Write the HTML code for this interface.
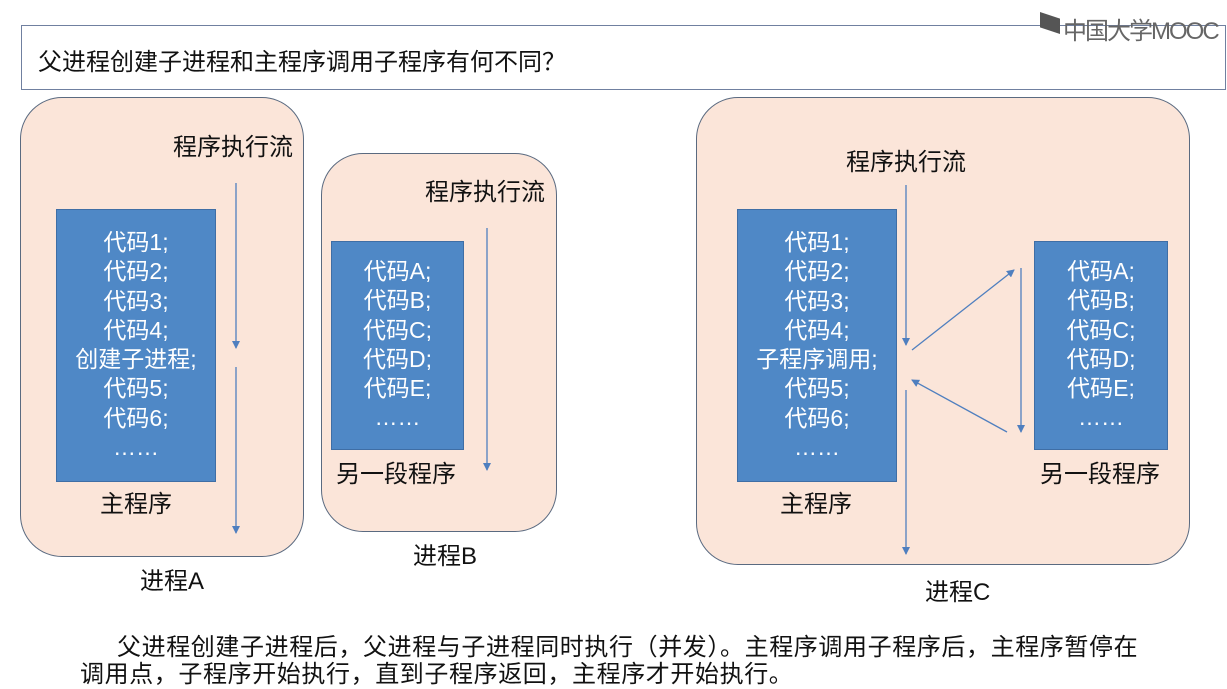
<!DOCTYPE html>
<html><head><meta charset="utf-8"><style>
body{margin:0;width:1227px;height:685px;background:#fff;position:relative;overflow:hidden;font-family:"Liberation Sans","Noto Sans CJK SC",sans-serif;}
.a{position:absolute;}
.proc{position:absolute;background:#fbe5d9;border:1.5px solid #5a6a80;border-radius:42px;}
.blue{position:absolute;background:#4f88c6;border:1.5px solid #3f6ea5;color:#fff;font-size:23px;line-height:29.3px;text-align:center;box-sizing:border-box;}
.t{position:absolute;font-size:24px;color:#111;white-space:nowrap;}
</style></head><body>
<div class="a" style="left:21px;top:25px;width:1205px;height:65px;border:1.5px solid #7080a0;box-sizing:border-box;"></div>
<div class="t" style="left:38px;top:42px;font-size:24px;">父进程创建子进程和主程序调用子程序有何不同？</div>
<div class="a" style="left:1040px;top:12px;width:20px;height:22px;background:#555;clip-path:polygon(0 0,100% 30%,100% 100%,0 70%);"></div>
<div class="t" style="left:1063px;top:11px;color:#666;font-size:24px;letter-spacing:-2px;">中国大学MOOC</div>

<div class="proc" style="left:20px;top:97px;width:282px;height:458px;"></div>
<div class="proc" style="left:321px;top:153px;width:234px;height:377px;"></div>
<div class="proc" style="left:696px;top:97px;width:492px;height:466px;"></div>

<div class="blue" style="left:56px;top:209px;width:160px;height:273px;padding-top:18px;">代码1;<br>代码2;<br>代码3;<br>代码4;<br>创建子进程;<br>代码5;<br>代码6;<br>……</div>
<div class="blue" style="left:331px;top:241px;width:133px;height:209px;padding-top:15px;">代码A;<br>代码B;<br>代码C;<br>代码D;<br>代码E;<br>……</div>
<div class="blue" style="left:737px;top:209px;width:160px;height:273px;padding-top:18px;">代码1;<br>代码2;<br>代码3;<br>代码4;<br>子程序调用;<br>代码5;<br>代码6;<br>……</div>
<div class="blue" style="left:1034px;top:241px;width:134px;height:209px;padding-top:15px;">代码A;<br>代码B;<br>代码C;<br>代码D;<br>代码E;<br>……</div>

<div class="t" style="left:173px;top:127px;">程序执行流</div>
<div class="t" style="left:425px;top:172px;">程序执行流</div>
<div class="t" style="left:846px;top:142px;">程序执行流</div>
<div class="t" style="left:100px;top:484px;">主程序</div>
<div class="t" style="left:336px;top:454px;">另一段程序</div>
<div class="t" style="left:140px;top:561px;">进程A</div>
<div class="t" style="left:413px;top:536px;">进程B</div>
<div class="t" style="left:780px;top:484px;">主程序</div>
<div class="t" style="left:1040px;top:454px;">另一段程序</div>
<div class="t" style="left:925px;top:572px;">进程C</div>

<svg class="a" style="left:0;top:0" width="1227" height="685">
<defs><marker id="m" markerWidth="8" markerHeight="8" refX="7" refY="4" orient="auto" markerUnits="userSpaceOnUse"><path d="M0,0 L8,4 L0,8 z" fill="#4f7fbf"/></marker></defs>
<g stroke="#4f7fbf" stroke-width="1.3" marker-end="url(#m)">
<line x1="236" y1="183" x2="236" y2="348"/>
<line x1="236" y1="367" x2="236" y2="533"/>
<line x1="487" y1="228" x2="487" y2="470"/>
<line x1="906" y1="185" x2="906" y2="345"/>
<line x1="906" y1="390" x2="906" y2="554"/>
<line x1="1021" y1="268" x2="1021" y2="432"/>
<line x1="912" y1="350" x2="1014" y2="270"/>
<line x1="1007" y1="432" x2="912" y2="380"/>
</g>
</svg>
<div class="t" style="left:117px;top:627px;letter-spacing:0.6px;">父进程创建子进程后，父进程与子进程同时执行（并发）。主程序调用子程序后，主程序暂停在</div>
<div class="t" style="left:80px;top:654px;letter-spacing:0.6px;">调用点，子程序开始执行，直到子程序返回，主程序才开始执行。</div>
</body></html>
